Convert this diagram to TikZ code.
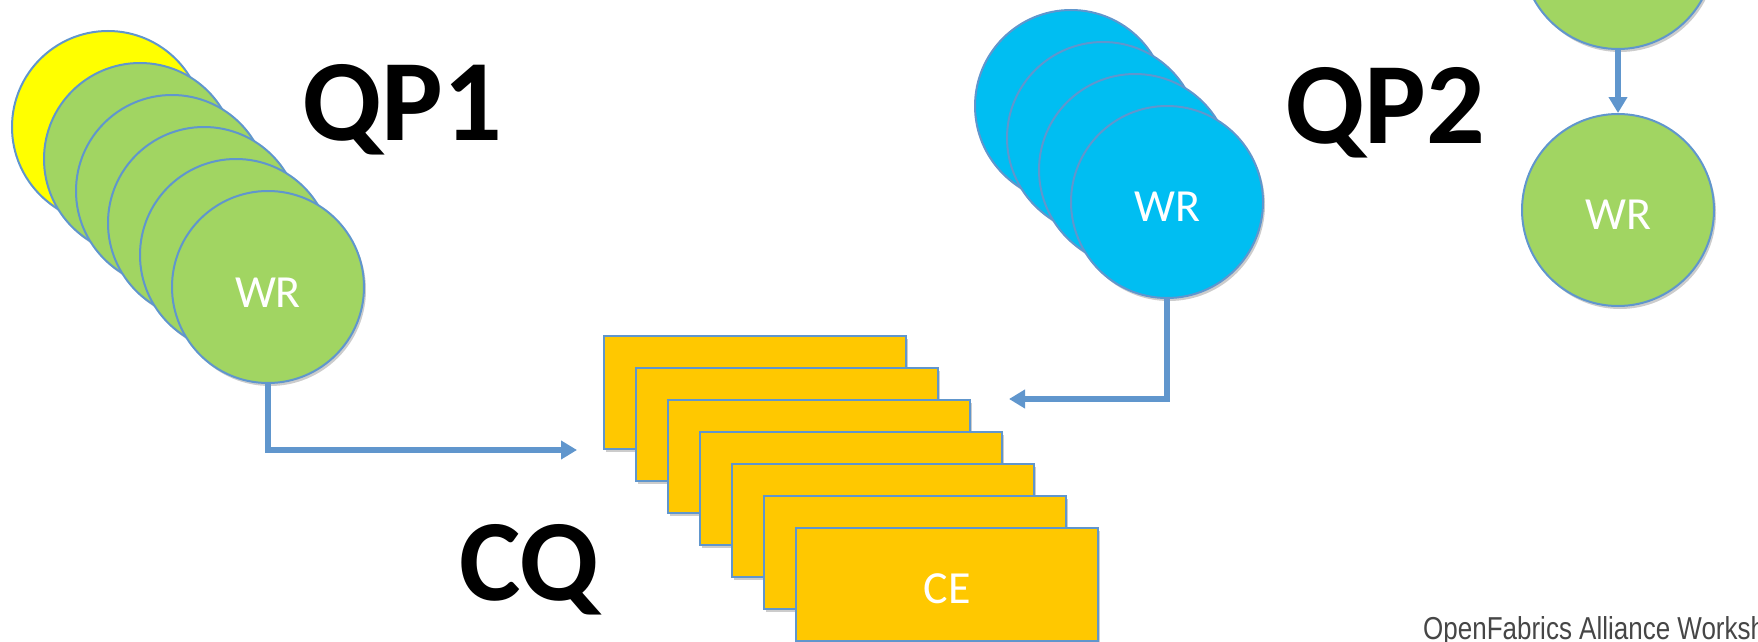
\documentclass[tikz,border=0pt]{standalone}
\usepackage{fontspec}
\setmainfont{Carlito}
\newfontfamily\footfont[FakeStretch=0.82]{Liberation Sans}
\usetikzlibrary{arrows.meta,shadows}
\definecolor{ln}{RGB}{96,150,205}
\definecolor{grn}{RGB}{161,213,98}
\definecolor{yel}{RGB}{255,255,0}
\definecolor{cyn}{RGB}{0,190,242}
\definecolor{gld}{RGB}{255,200,0}
\definecolor{foot}{RGB}{70,70,70}
\begin{document}
\begin{tikzpicture}[x=1pt,y=-1pt,
  shad/.style={drop shadow={shadow xshift=2pt,shadow yshift=-3pt,opacity=0.2,fill=black}},
  wr/.style={circle,draw=ln,line width=2pt,minimum size=192pt,inner sep=0pt,fill=grn,shad},
  ce/.style={rectangle,draw=ln,line width=2.4pt,minimum width=302pt,minimum height=113pt,inner sep=0pt,fill=gld,shad},
  lbl/.style={text=white,font=\fontsize{46}{46}\selectfont,inner sep=0pt},
  ttl/.style={font=\fontsize{116}{116}\selectfont\bfseries,anchor=base west,inner sep=0pt,text=black},
  conn/.style={draw=ln,line width=5.5pt,-{Triangle[length=16pt,width=18pt]}}]
\useasboundingbox (0,0) rectangle (1758,642);
\clip (0,0) rectangle (1758,642);
% QP1 stack
\node[wr,fill=yel] (c1) at (108,127) {};
\node[wr] (c2) at (140,159) {};
\node[wr] (c3) at (172,191) {};
\node[wr] (c4) at (204,223) {};
\node[wr] (c5) at (236,255) {};
\node[wr] (c6) at (268,287) {};
\node[lbl] (t1) at ([yshift=-6pt]c6.center) {WR};
% QP2 stack
\node[wr,fill=cyn] (q1) at (1071,106) {};
\node[wr,fill=cyn] (q2) at (1103,138) {};
\node[wr,fill=cyn] (q3) at (1135,170) {};
\node[wr,fill=cyn] (q4) at (1167,202) {};
\node[lbl] (t2) at ([yshift=-5pt]q4.center) {WR};
% right pair
\node[wr] (p1) at (1618,-47) {};
\node[wr] (p2) at (1618,210) {};
\node[lbl] (t3) at ([yshift=-5pt]p2.center) {WR};
% CQ stack
\node[ce] (r1) at (755,392.5) {};
\node[ce] (r2) at (787,424.5) {};
\node[ce] (r3) at (819,456.5) {};
\node[ce] (r4) at (851,488.5) {};
\node[ce] (r5) at (883,520.5) {};
\node[ce] (r6) at (915,552.5) {};
\node[ce] (r7) at (947,584.5) {};
\node[lbl] (t4) at ([yshift=-4pt]r7.center) {CE};
% titles
\node[ttl] (qp1) at (302,140) {QP1};
\node[ttl] (qp2) at (1285,143) {QP2};
\node[ttl] (cq) at (459,600) {CQ};
% connectors
\coordinate (a1) at (577,450);
\coordinate (a2) at (1009,399);
\draw[conn] (c6.south) |- (a1);
\draw[conn] (q4.south) |- (a2);
\draw[conn] (p1.south) -- (p2.north);
% footer
\node[anchor=base west,inner sep=0pt,text=foot,font=\footfont\fontsize{31.7}{32}\selectfont] (ft) at (1423,639) {OpenFabrics Alliance Workshop};
\end{tikzpicture}
\end{document}
